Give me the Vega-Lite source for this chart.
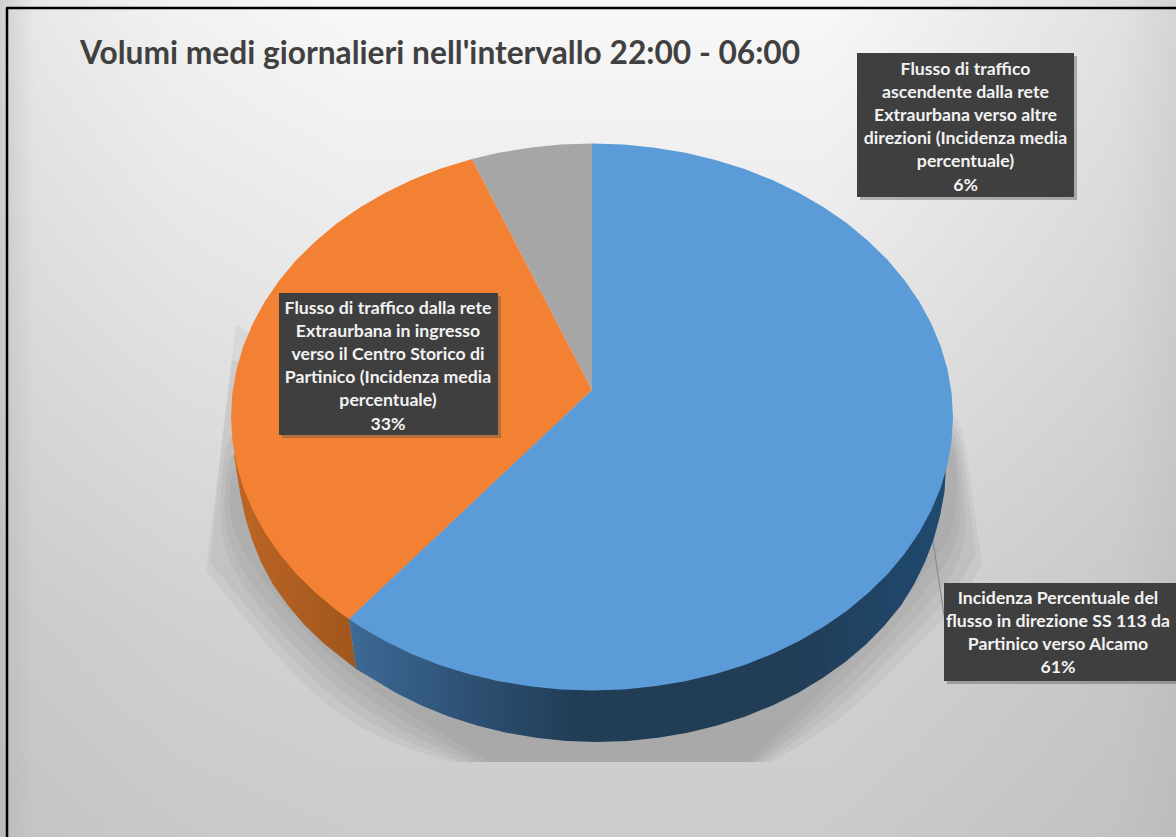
{"$schema":"https://vega.github.io/schema/vega-lite/v6.json","width":1176,"height":837,"padding":0,"autosize":{"type":"none"},"background":"#ffffff","config":{"view":{"stroke":null}},
"datasets":{
"blueTop":[{"i":0,"x":592,"y":390},{"i":1,"x":592,"y":143.5},{"i":2,"x":623.5,"y":144.5},{"i":3,"x":654.7,"y":147.7},{"i":4,"x":685.4,"y":152.8},{"i":5,"x":715.5,"y":160},{"i":6,"x":744.6,"y":169.1},{"i":7,"x":772.5,"y":180.1},{"i":8,"x":799.1,"y":192.9},{"i":9,"x":824.1,"y":207.5},{"i":10,"x":847.3,"y":223.6},{"i":11,"x":868.5,"y":241.2},{"i":12,"x":887.7,"y":260.1},{"i":13,"x":904.6,"y":280.2},{"i":14,"x":919.2,"y":301.4},{"i":15,"x":931.2,"y":323.5},{"i":16,"x":940.7,"y":346.2},{"i":17,"x":947.5,"y":369.5},{"i":18,"x":951.6,"y":393.2},{"i":19,"x":953,"y":417},{"i":20,"x":951.6,"y":440.8},{"i":21,"x":947.5,"y":464.5},{"i":22,"x":940.7,"y":487.8},{"i":23,"x":931.2,"y":510.5},{"i":24,"x":919.2,"y":532.6},{"i":25,"x":904.6,"y":553.8},{"i":26,"x":887.7,"y":573.9},{"i":27,"x":868.5,"y":592.8},{"i":28,"x":847.3,"y":610.4},{"i":29,"x":824.1,"y":626.5},{"i":30,"x":799.1,"y":641.1},{"i":31,"x":772.5,"y":653.9},{"i":32,"x":744.6,"y":664.9},{"i":33,"x":715.5,"y":674},{"i":34,"x":685.4,"y":681.2},{"i":35,"x":654.7,"y":686.3},{"i":36,"x":623.5,"y":689.5},{"i":37,"x":592,"y":690.5},{"i":38,"x":560.5,"y":689.5},{"i":39,"x":529.3,"y":686.3},{"i":40,"x":498.6,"y":681.2},{"i":41,"x":468.5,"y":674},{"i":42,"x":439.4,"y":664.9},{"i":43,"x":411.5,"y":653.9},{"i":44,"x":384.9,"y":641.1},{"i":45,"x":359.9,"y":626.5},{"i":46,"x":349,"y":619}],
"orangeTop":[{"i":0,"x":592,"y":390},{"i":1,"x":349,"y":619},{"i":2,"x":336.7,"y":610.4},{"i":3,"x":315.5,"y":592.8},{"i":4,"x":296.3,"y":573.9},{"i":5,"x":279.4,"y":553.8},{"i":6,"x":264.8,"y":532.6},{"i":7,"x":252.8,"y":510.5},{"i":8,"x":243.3,"y":487.8},{"i":9,"x":236.5,"y":464.5},{"i":10,"x":232.4,"y":440.8},{"i":11,"x":231,"y":417},{"i":12,"x":232.4,"y":393.2},{"i":13,"x":236.5,"y":369.5},{"i":14,"x":243.3,"y":346.2},{"i":15,"x":252.8,"y":323.5},{"i":16,"x":264.8,"y":301.4},{"i":17,"x":279.4,"y":280.2},{"i":18,"x":296.3,"y":260.1},{"i":19,"x":315.5,"y":241.2},{"i":20,"x":336.7,"y":223.6},{"i":21,"x":359.9,"y":207.5},{"i":22,"x":384.9,"y":192.9},{"i":23,"x":411.5,"y":180.1},{"i":24,"x":439.4,"y":169.1},{"i":25,"x":472,"y":159}],
"greyTop":[{"i":0,"x":592,"y":390},{"i":1,"x":472,"y":159},{"i":2,"x":498.6,"y":152.8},{"i":3,"x":529.3,"y":147.7},{"i":4,"x":560.5,"y":144.5},{"i":5,"x":592,"y":143.5}],
"blueWall":[{"i":0,"x":600,"y":450},{"i":1,"x":946,"y":466},{"i":2,"x":944.5,"y":492},{"i":3,"x":940,"y":516},{"i":4,"x":933.5,"y":540},{"i":5,"x":925,"y":562},{"i":6,"x":914,"y":584.4},{"i":7,"x":901,"y":605.5},{"i":8,"x":884.5,"y":625.6},{"i":9,"x":865.9,"y":644.5},{"i":10,"x":845.2,"y":662},{"i":11,"x":822.7,"y":678.1},{"i":12,"x":798.4,"y":692.7},{"i":13,"x":772.5,"y":705.4},{"i":14,"x":745.4,"y":716.4},{"i":15,"x":717.1,"y":725.5},{"i":16,"x":687.8,"y":732.7},{"i":17,"x":658,"y":737.8},{"i":18,"x":627.6,"y":741},{"i":19,"x":597,"y":742},{"i":20,"x":566.4,"y":741},{"i":21,"x":536,"y":737.8},{"i":22,"x":506.2,"y":732.7},{"i":23,"x":476.9,"y":725.5},{"i":24,"x":448.6,"y":716.4},{"i":25,"x":421.5,"y":705.4},{"i":26,"x":395.6,"y":692.7},{"i":27,"x":371.3,"y":678.1},{"i":28,"x":356,"y":669},{"i":29,"x":349,"y":619}],
"orangeWall":[{"i":0,"x":349,"y":619},{"i":1,"x":356,"y":669},{"i":2,"x":346,"y":661},{"i":3,"x":325,"y":644.5},{"i":4,"x":305,"y":625.6},{"i":5,"x":288,"y":605.5},{"i":6,"x":273,"y":584.4},{"i":7,"x":261,"y":562.3},{"i":8,"x":252,"y":539.7},{"i":9,"x":245,"y":516.4},{"i":10,"x":240,"y":492.8},{"i":11,"x":234,"y":455},{"i":12,"x":300,"y":450}],
"shadowRings":[
{"ring":0,"i":0,"x":236,"y":325},{"ring":0,"i":0.1,"x":236,"y":325},{"ring":0,"i":0.2,"x":236,"y":325},{"ring":0,"i":1,"x":221,"y":450},{"ring":0,"i":2,"x":206,"y":570},{"ring":0,"i":2.1,"x":206,"y":570},{"ring":0,"i":2.2,"x":206,"y":570},{"ring":0,"i":3,"x":262,"y":640},{"ring":0,"i":4,"x":320,"y":702},{"ring":0,"i":5,"x":375,"y":738},{"ring":0,"i":6,"x":450,"y":762},{"ring":0,"i":7,"x":450,"y":762},{"ring":0,"i":8,"x":450,"y":762},{"ring":0,"i":9,"x":770,"y":762},{"ring":0,"i":10,"x":770,"y":762},{"ring":0,"i":11,"x":770,"y":762},{"ring":0,"i":12,"x":845,"y":720},{"ring":0,"i":13,"x":905,"y":655},{"ring":0,"i":14,"x":955,"y":610},{"ring":0,"i":15,"x":982,"y":565},{"ring":0,"i":15.1,"x":982,"y":565},{"ring":0,"i":15.2,"x":982,"y":565},{"ring":0,"i":16,"x":965,"y":440},{"ring":0,"i":17,"x":955,"y":390},{"ring":0,"i":18,"x":700,"y":420},{"ring":0,"i":19,"x":400,"y":420},
{"ring":1,"i":0,"x":232,"y":360},{"ring":1,"i":0.1,"x":232,"y":360},{"ring":1,"i":0.2,"x":232,"y":360},{"ring":1,"i":1,"x":220,"y":460},{"ring":1,"i":2,"x":210,"y":562},{"ring":1,"i":2.1,"x":210,"y":562},{"ring":1,"i":2.2,"x":210,"y":562},{"ring":1,"i":3,"x":270,"y":635},{"ring":1,"i":4,"x":328,"y":696},{"ring":1,"i":5,"x":385,"y":733},{"ring":1,"i":6,"x":460,"y":762},{"ring":1,"i":7,"x":460,"y":762},{"ring":1,"i":8,"x":460,"y":762},{"ring":1,"i":9,"x":765,"y":762},{"ring":1,"i":10,"x":765,"y":762},{"ring":1,"i":11,"x":765,"y":762},{"ring":1,"i":12,"x":838,"y":712},{"ring":1,"i":13,"x":898,"y":650},{"ring":1,"i":14,"x":948,"y":600},{"ring":1,"i":15,"x":976,"y":555},{"ring":1,"i":15.1,"x":976,"y":555},{"ring":1,"i":15.2,"x":976,"y":555},{"ring":1,"i":16,"x":962,"y":445},{"ring":1,"i":17,"x":955,"y":400},{"ring":1,"i":18,"x":700,"y":420},{"ring":1,"i":19,"x":400,"y":420},
{"ring":2,"i":0,"x":232,"y":400},{"ring":2,"i":1,"x":222,"y":470},{"ring":2,"i":2,"x":216,"y":556},{"ring":2,"i":3,"x":278,"y":630},{"ring":2,"i":4,"x":336,"y":690},{"ring":2,"i":5,"x":395,"y":728},{"ring":2,"i":6,"x":470,"y":762},{"ring":2,"i":7,"x":470,"y":762},{"ring":2,"i":8,"x":470,"y":762},{"ring":2,"i":9,"x":760,"y":762},{"ring":2,"i":10,"x":760,"y":762},{"ring":2,"i":11,"x":760,"y":762},{"ring":2,"i":12,"x":831,"y":706},{"ring":2,"i":13,"x":892,"y":644},{"ring":2,"i":14,"x":941,"y":590},{"ring":2,"i":15,"x":971,"y":548},{"ring":2,"i":16,"x":959,"y":450},{"ring":2,"i":17,"x":955,"y":410},{"ring":2,"i":18,"x":700,"y":420},{"ring":2,"i":19,"x":400,"y":420},
{"ring":3,"i":0,"x":232,"y":430},{"ring":3,"i":1,"x":225,"y":480},{"ring":3,"i":2,"x":222,"y":550},{"ring":3,"i":3,"x":286,"y":625},{"ring":3,"i":4,"x":344,"y":684},{"ring":3,"i":5,"x":405,"y":723},{"ring":3,"i":6,"x":480,"y":762},{"ring":3,"i":7,"x":480,"y":762},{"ring":3,"i":8,"x":480,"y":762},{"ring":3,"i":9,"x":755,"y":762},{"ring":3,"i":10,"x":755,"y":762},{"ring":3,"i":11,"x":755,"y":762},{"ring":3,"i":12,"x":824,"y":700},{"ring":3,"i":13,"x":886,"y":638},{"ring":3,"i":14,"x":934,"y":580},{"ring":3,"i":15,"x":965,"y":538},{"ring":3,"i":16,"x":957,"y":455},{"ring":3,"i":17,"x":955,"y":420},{"ring":3,"i":18,"x":700,"y":420},{"ring":3,"i":19,"x":400,"y":420},
{"ring":4,"i":0,"x":232,"y":450},{"ring":4,"i":1,"x":229,"y":490},{"ring":4,"i":2,"x":230,"y":540},{"ring":4,"i":3,"x":294,"y":620},{"ring":4,"i":4,"x":352,"y":678},{"ring":4,"i":5,"x":415,"y":718},{"ring":4,"i":6,"x":490,"y":762},{"ring":4,"i":7,"x":490,"y":762},{"ring":4,"i":8,"x":490,"y":762},{"ring":4,"i":9,"x":750,"y":762},{"ring":4,"i":10,"x":750,"y":762},{"ring":4,"i":11,"x":750,"y":762},{"ring":4,"i":12,"x":817,"y":694},{"ring":4,"i":13,"x":880,"y":632},{"ring":4,"i":14,"x":928,"y":570},{"ring":4,"i":15,"x":960,"y":525},{"ring":4,"i":16,"x":955,"y":460},{"ring":4,"i":17,"x":955,"y":430},{"ring":4,"i":18,"x":700,"y":420},{"ring":4,"i":19,"x":400,"y":420}
],
"page":[{"x":0,"x2":1176,"y":0,"y2":837}],
"boxes":[{"x":857,"x2":1074,"y":53,"y2":197},{"x":944,"x2":1176,"y":583,"y2":681},{"x":279,"x2":498,"y":293,"y2":435}],
"boxShadows":[{"x":860,"x2":1077,"y":56,"y2":200},{"x":947,"x2":1176,"y":586,"y2":684},{"x":282,"x2":501,"y":296,"y2":438}],
"labels":[{"x":965.5,"y":75,"label":"Flusso di traffico\nascendente dalla rete\nExtraurbana verso altre\ndirezioni (Incidenza media\npercentuale)\n6%"},{"x":1058,"y":604,"label":"Incidenza Percentuale del\nflusso in direzione SS 113 da\nPartinico verso Alcamo\n61%"},{"x":388,"y":314,"label":"Flusso di traffico dalla rete\nExtraurbana in ingresso\nverso il Centro Storico di\nPartinico (Incidenza media\npercentuale)\n33%"}],
"title":[{"x":80,"y":64,"label":"Volumi medi giornalieri nell'intervallo 22:00 - 06:00"}],
"leader":[{"x":933,"y":541,"x2":944,"y2":615}],
"frame":[{"x":6,"y":8,"x2":1176,"y2":8},{"x":7,"y":8,"x2":7,"y2":837}]
},
"encoding":{"x":{"field":"x","type":"quantitative","scale":{"domain":[0,1176]},"axis":null},"y":{"field":"y","type":"quantitative","scale":{"domain":[0,837],"reverse":true},"axis":null}},
"layer":[
{"data":{"name":"page"},"mark":{"type":"rect","fill":{"gradient":"linear","x1":0,"y1":0,"x2":0,"y2":1,"stops":[{"offset":0,"color":"#f8f8f8"},{"offset":0.35,"color":"#e8e8e8"},{"offset":0.75,"color":"#d3d3d3"},{"offset":1,"color":"#cbcbcb"}]}},"encoding":{"x2":{"field":"x2"},"y2":{"field":"y2"}}},
{"data":{"name":"page"},"mark":{"type":"rect","fill":{"gradient":"linear","x1":0,"y1":0,"x2":1,"y2":0,"stops":[{"offset":0,"color":"rgba(170,170,170,0.5)"},{"offset":0.03,"color":"rgba(170,170,170,0.2)"},{"offset":0.15,"color":"rgba(170,170,170,0.08)"},{"offset":0.3,"color":"rgba(170,170,170,0)"},{"offset":0.7,"color":"rgba(170,170,170,0)"},{"offset":0.95,"color":"rgba(170,170,170,0.28)"},{"offset":1,"color":"rgba(170,170,170,0.45)"}]}},"encoding":{"x2":{"field":"x2"},"y2":{"field":"y2"}}},
{"data":{"name":"shadowRings"},"transform":[{"filter":"datum.ring==0"}],"mark":{"type":"line","interpolate":"basis-closed","fill":"#808080","fillOpacity":0.1,"strokeWidth":0},"encoding":{"order":{"field":"i"}}},
{"data":{"name":"shadowRings"},"transform":[{"filter":"datum.ring==1"}],"mark":{"type":"line","interpolate":"basis-closed","fill":"#808080","fillOpacity":0.11,"strokeWidth":0},"encoding":{"order":{"field":"i"}}},
{"data":{"name":"shadowRings"},"transform":[{"filter":"datum.ring==2"}],"mark":{"type":"line","interpolate":"basis-closed","fill":"#808080","fillOpacity":0.12,"strokeWidth":0},"encoding":{"order":{"field":"i"}}},
{"data":{"name":"shadowRings"},"transform":[{"filter":"datum.ring==3"}],"mark":{"type":"line","interpolate":"basis-closed","fill":"#808080","fillOpacity":0.12,"strokeWidth":0},"encoding":{"order":{"field":"i"}}},
{"data":{"name":"shadowRings"},"transform":[{"filter":"datum.ring==4"}],"mark":{"type":"line","interpolate":"basis-closed","fill":"#808080","fillOpacity":0.12,"strokeWidth":0},"encoding":{"order":{"field":"i"}}},
{"data":{"name":"leader"},"mark":{"type":"rule","color":"#8c8c8c","strokeWidth":1.2},"encoding":{"x2":{"field":"x2"},"y2":{"field":"y2"}}},
{"data":{"name":"orangeWall"},"mark":{"type":"line","strokeWidth":0,"fill":{"gradient":"linear","x1":0,"y1":0,"x2":1,"y2":0,"stops":[{"offset":0,"color":"#bd6526"},{"offset":1,"color":"#a0561c"}]}},"encoding":{"order":{"field":"i"}}},
{"data":{"name":"blueWall"},"mark":{"type":"line","strokeWidth":0,"fill":{"gradient":"linear","x1":0,"y1":0,"x2":1,"y2":0,"stops":[{"offset":0,"color":"#3d6a96"},{"offset":0.18,"color":"#2f5377"},{"offset":0.38,"color":"#223d56"},{"offset":0.75,"color":"#223d56"},{"offset":1,"color":"#1f4a70"}]}},"encoding":{"order":{"field":"i"}}},
{"data":{"name":"orangeTop"},"mark":{"type":"line","fill":"#f38134","strokeWidth":0},"encoding":{"order":{"field":"i"}}},
{"data":{"name":"greyTop"},"mark":{"type":"line","fill":"#a6a6a6","strokeWidth":0},"encoding":{"order":{"field":"i"}}},
{"data":{"name":"blueTop"},"mark":{"type":"line","fill":"#5b9bd7","strokeWidth":0},"encoding":{"order":{"field":"i"}}},
{"data":{"name":"boxShadows"},"mark":{"type":"rect","fill":"#555555","opacity":0.4},"encoding":{"x2":{"field":"x2"},"y2":{"field":"y2"}}},
{"data":{"name":"boxes"},"mark":{"type":"rect","fill":"#3f3f3f"},"encoding":{"x2":{"field":"x2"},"y2":{"field":"y2"}}},
{"data":{"name":"labels"},"mark":{"type":"text","font":"Lato","fontWeight":"bold","fontSize":17.7,"color":"#f2f2f2","align":"center","baseline":"alphabetic","lineBreak":"\n","lineHeight":23.1},"encoding":{"text":{"field":"label"}}},
{"data":{"name":"title"},"mark":{"type":"text","font":"Lato","fontWeight":"bold","fontSize":31.7,"color":"#404040","align":"left","baseline":"alphabetic"},"encoding":{"text":{"field":"label"}}},
{"data":{"name":"frame"},"mark":{"type":"rule","color":"#000000","strokeWidth":2.5},"encoding":{"x2":{"field":"x2"},"y2":{"field":"y2"}}}
]}
